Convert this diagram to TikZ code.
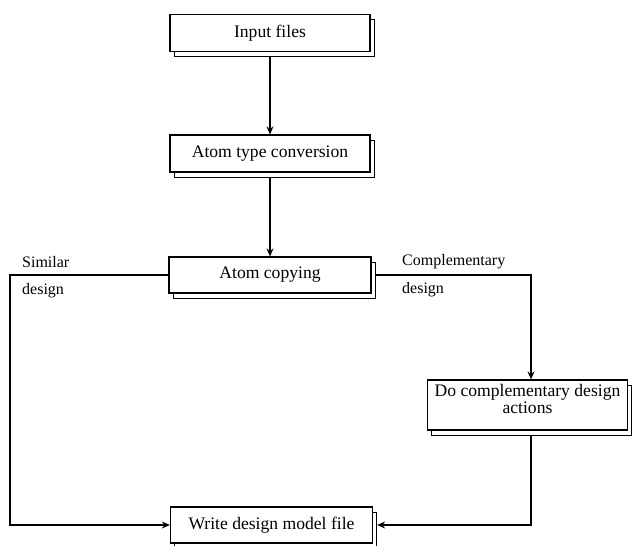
\documentclass[tikz,border=0pt]{standalone}
\usepackage{fontspec}
\setmainfont{Liberation Serif}
\usetikzlibrary{arrows.meta,shadows}

\tikzset{
  card/.style={draw, line width=1.2pt, fill=white, align=center,
    minimum width=200pt, minimum height=37pt, inner sep=2pt,
    font=\fontsize{17.6}{16.5}\selectfont,
    copy shadow={shadow xshift=4pt, shadow yshift=-5pt, draw, fill=white, line width=1pt}},
  flow/.style={line width=1.7pt, -{Stealth[length=8pt,width=7pt]}},
  note/.style={anchor=west, inner sep=0pt, font=\fontsize{16}{16}\selectfont}
}

\begin{document}
\begin{tikzpicture}[x=1pt, y=-1pt]
  \useasboundingbox (0,0) rectangle (633,546);

  % process boxes
  \node[card] (inp) at (270,33) {Input files};
  \node[card] (atc) at (270,153.5) {Atom type conversion};
  \node[card, minimum width=202pt, minimum height=36pt] (acp) at (270,275) {Atom copying};
  \node[card, minimum height=50pt, text depth=12pt, inner ysep=1pt] (dca) at (527.5,405) {Do complementary design\\actions};
  \node[card, minimum width=202pt, minimum height=36pt] (wdm) at (271.5,525) {Write design model file};

  % branch corners
  \coordinate (lt) at (10,275);
  \coordinate (rt) at (531,275);

  % main sequence
  \draw[flow] ([yshift=-5pt]inp.south) -- (atc.north);
  \draw[flow] ([yshift=-5pt]atc.south) -- (acp.north);

  % similar design branch
  \draw[flow] (acp.west) -- (lt) -- (lt |- wdm.west) -- (wdm.west);

  % complementary design branch
  \draw[flow] ([xshift=4pt]acp.east) -- (rt) -- (rt |- dca.north);
  \draw[flow] ([yshift=-5pt]dca.south -| rt) -- (rt |- wdm.east) -- ([xshift=4pt]wdm.east);

  % branch labels
  \node[note] (sim1) at (22,262) {Similar};
  \node[note] (sim2) at (22,291) {design};
  \node[note] (com1) at (402,262) {Complementary};
  \node[note] (com2) at (402,290) {design};
\end{tikzpicture}
\end{document}
